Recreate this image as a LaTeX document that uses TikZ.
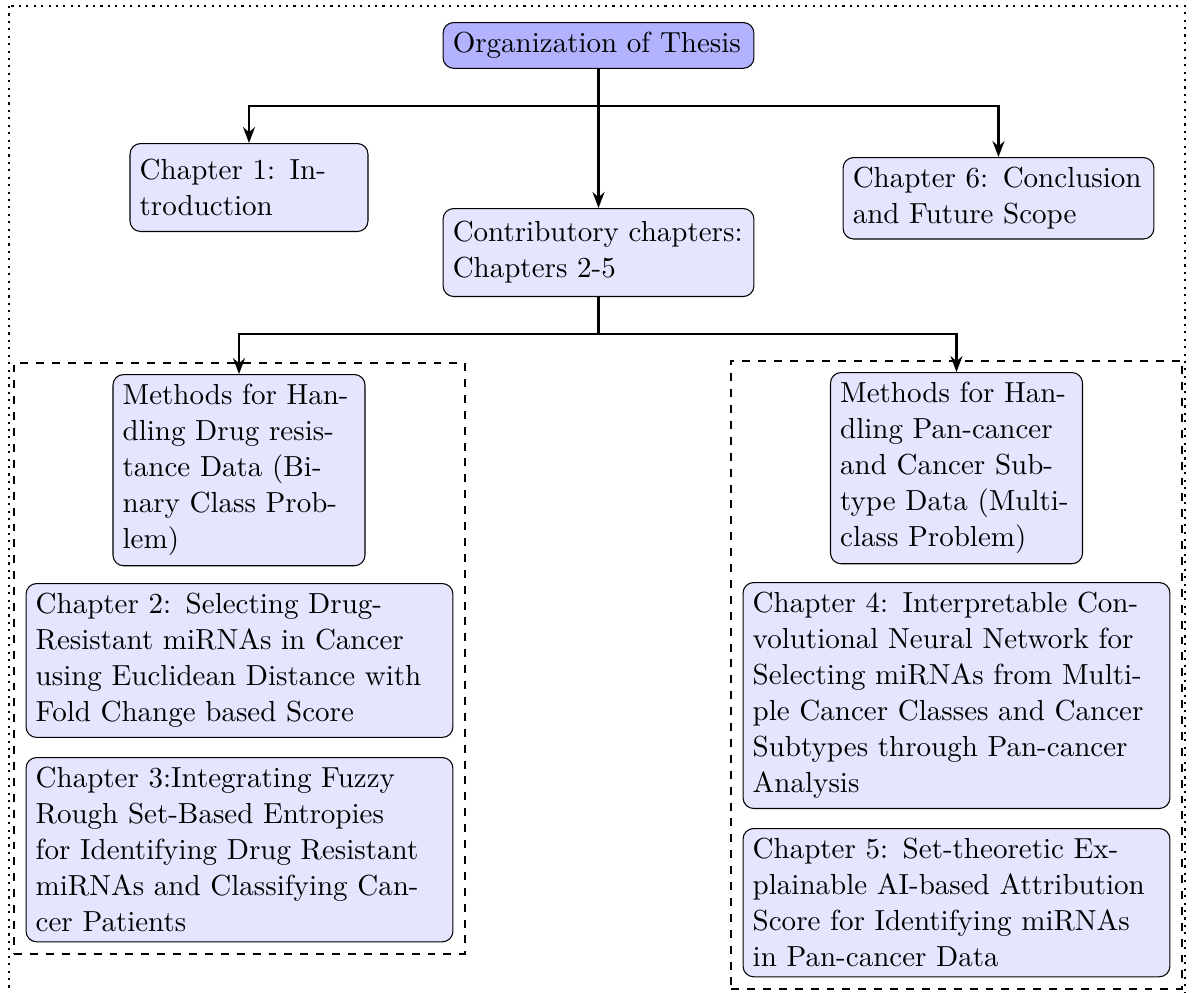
\documentclass[tikz,border=0pt]{standalone}
\usetikzlibrary{fit,arrows.meta}
\begin{document}
\begin{tikzpicture}[x=0.37736pt,y=-0.37736pt,
  box/.style={draw=black,fill=blue!10,rounded corners=4pt,
    font=\fontsize{10.95}{13.6}\selectfont,inner sep=3.65pt},
  topbox/.style={box,fill=blue!30},
  arr/.style={thick,-{Stealth[length=6pt,width=4.5pt]}},
  group/.style={draw,dashed,thick,inner sep=4.3pt,rectangle}]
\clip (0,0) rectangle (1197,992);

% outer frame
\draw[dotted,thick] (9,6) rectangle (1185,1010);

% top level
\node[topbox,text width=110pt,anchor=north] (org) at (598.5,22) {Organization of Thesis};
\node[box,text width=82.5pt,minimum height=33.2pt,anchor=north] (ch1) at (249,143) {Chapter 1: Introduction};
\node[box,text width=110pt,minimum height=33.2pt,anchor=north] (contrib) at (598.5,208) {Contributory chapters: Chapters 2-5};
\node[box,text width=110pt,anchor=north] (ch6) at (998.5,157) {Chapter 6: Conclusion and Future Scope};

% left group: binary class problems
\node[box,text width=87.8pt,anchor=north] (mleft) at (239,374) {Methods for Handling Drug resistance Data (Binary Class Problem)};
\node[box,text width=153.8pt,anchor=north] (ch2) at (239.5,583) {Chapter 2: Selecting Drug-Resistant miRNAs in Cancer using Euclidean Distance with Fold Change based Score};
\node[box,text width=153.8pt,anchor=north] (ch3) at (239.5,757) {Chapter 3:Integrating Fuzzy Rough Set-Based Entropies for Identifying Drug Resistant miRNAs and Classifying Cancer Patients};
\node[group,fit=(mleft)(ch2)(ch3)] (gleft) {};

% right group: multi-class problems
\node[box,text width=87.8pt,anchor=north] (mright) at (956.5,372) {Methods for Handling Pan-cancer and Cancer Subtype Data (Multiclass Problem)};
\node[box,text width=153.8pt,anchor=north] (ch4) at (956.5,582) {Chapter 4: Interpretable Convolutional Neural Network for Selecting miRNAs from Multiple Cancer Classes and Cancer Subtypes through Pan-cancer Analysis};
\node[box,text width=153.8pt,anchor=north] (ch5) at (956.5,828) {Chapter 5: Set-theoretic Explainable AI-based Attribution Score for Identifying miRNAs in Pan-cancer Data};
\node[group,fit=(mright)(ch4)(ch5)] (gright) {};

% connectors
\coordinate (j1) at (598.5,106);
\coordinate (j2) at (598.5,334);
\draw[arr] (org.south) -- (contrib.north);
\draw[arr] (j1) -| (ch1.north);
\draw[arr] (j1) -| (ch6.north);
\draw[thick] (contrib.south) -- (j2);
\draw[arr] (j2) -| (mleft.north);
\draw[arr] (j2) -| (mright.north);
\end{tikzpicture}
\end{document}
